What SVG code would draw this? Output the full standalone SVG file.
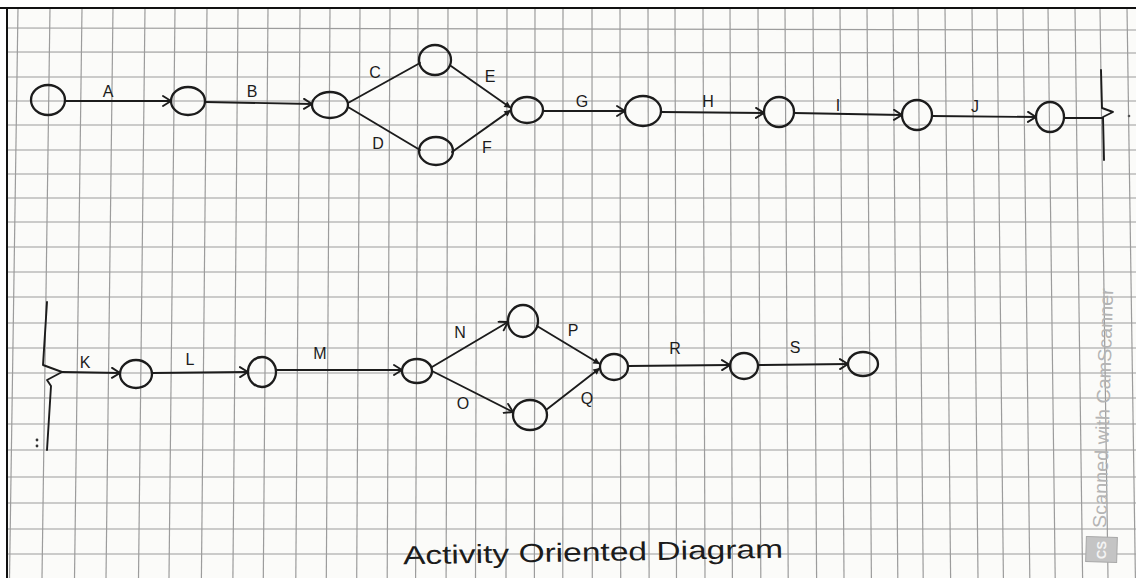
<svg xmlns="http://www.w3.org/2000/svg" width="1136" height="578" viewBox="0 0 1136 578">
  <defs>
    <style>
      .grid line { stroke: #9c9c9c; stroke-width: 1.2; }
      .node { fill: none; stroke: #1c1c1c; stroke-width: 2.3; }
      .edge { fill: none; stroke: #1c1c1c; stroke-width: 1.9; stroke-linecap: round; stroke-linejoin: round; }
      .lbl { font-family: "Liberation Sans", Arial, sans-serif; font-size: 16px; fill: #1c1c1c; text-anchor: middle; dominant-baseline: central; }
      .title { font-family: "Liberation Sans", Arial, sans-serif; font-size: 26px; fill: #1c1c1c; }
      .mark { font-family: "Liberation Sans", Arial, sans-serif; fill: #b4b4b4; }
    </style>
    <marker id="open" viewBox="-10 -6 12 12" refX="0" refY="0" markerWidth="12" markerHeight="12" markerUnits="userSpaceOnUse" orient="auto">
      <path d="M-8,-5 L0,0 L-8,5" fill="none" stroke="#1c1c1c" stroke-width="1.9" stroke-linecap="round" stroke-linejoin="round"/>
    </marker>
    <marker id="solid" viewBox="-10 -6 12 12" refX="0" refY="0" markerWidth="10" markerHeight="10" markerUnits="userSpaceOnUse" orient="auto">
      <path d="M-8,-4 L0,0 L-8,4 Z" fill="#1c1c1c"/>
    </marker>
  </defs>

  <!-- paper -->
  <rect x="0" y="0" width="1136" height="578" fill="#ffffff"/>
  <rect x="7" y="8" width="1129" height="570" fill="#fbfbf9"/>

  <!-- squared paper grid -->
  <g class="grid">
    <line x1="18" y1="8" x2="9.5" y2="578"/>
    <line x1="50" y1="8" x2="42" y2="578"/>
    <line x1="82" y1="8" x2="74.5" y2="578"/>
    <line x1="113" y1="8" x2="106" y2="578"/>
    <line x1="145" y1="8" x2="138.5" y2="578"/>
    <line x1="175" y1="8" x2="169" y2="578"/>
    <line x1="207" y1="8" x2="201.4" y2="578"/>
    <line x1="238" y1="8" x2="232.9" y2="578"/>
    <line x1="268" y1="8" x2="263.3" y2="578"/>
    <line x1="300" y1="8" x2="295.8" y2="578"/>
    <line x1="330" y1="8" x2="326.3" y2="578"/>
    <line x1="360" y1="8" x2="356.7" y2="578"/>
    <line x1="390" y1="8" x2="387.2" y2="578"/>
    <line x1="418" y1="8" x2="415.6" y2="578"/>
    <line x1="448" y1="8" x2="446.1" y2="578"/>
    <line x1="477" y1="8" x2="475.5" y2="578"/>
    <line x1="507" y1="8" x2="506" y2="578"/>
    <line x1="535" y1="8" x2="534.4" y2="578"/>
    <line x1="563" y1="8" x2="562.8" y2="578"/>
    <line x1="592" y1="8" x2="592.3" y2="578"/>
    <line x1="620" y1="8" x2="620.7" y2="578"/>
    <line x1="648" y1="8" x2="649.1" y2="578"/>
    <line x1="675" y1="8" x2="676.5" y2="578"/>
    <line x1="703" y1="8" x2="705" y2="578"/>
    <line x1="730" y1="8" x2="732.4" y2="578"/>
    <line x1="758" y1="8" x2="760.8" y2="578"/>
    <line x1="785" y1="8" x2="788.2" y2="578"/>
    <line x1="813" y1="8" x2="816.6" y2="578"/>
    <line x1="840" y1="8" x2="844" y2="578"/>
    <line x1="867" y1="8" x2="871.4" y2="578"/>
    <line x1="893" y1="8" x2="897.8" y2="578"/>
    <line x1="918" y1="8" x2="923.2" y2="578"/>
    <line x1="945" y1="8" x2="950.6" y2="578"/>
    <line x1="972" y1="8" x2="978" y2="578"/>
    <line x1="997" y1="8" x2="1003.4" y2="578"/>
    <line x1="1023" y1="8" x2="1029.8" y2="578"/>
    <line x1="1048" y1="8" x2="1055.2" y2="578"/>
    <line x1="1075" y1="8" x2="1082.6" y2="578"/>
    <line x1="1100" y1="8" x2="1108" y2="578"/>
    <line x1="1127" y1="8" x2="1135.4" y2="578"/>

    <line x1="7" y1="28" x2="1136" y2="30"/>
    <line x1="7" y1="52" x2="1136" y2="53"/>
    <line x1="7" y1="77" x2="1136" y2="77"/>
    <line x1="7" y1="101" x2="1136" y2="101"/>
    <line x1="7" y1="125" x2="1136" y2="125"/>
    <line x1="7" y1="150" x2="1136" y2="150"/>
    <line x1="7" y1="174" x2="1136" y2="174"/>
    <line x1="7" y1="198" x2="1136" y2="198"/>
    <line x1="7" y1="222" x2="1136" y2="222"/>
    <line x1="7" y1="247" x2="1136" y2="247"/>
    <line x1="7" y1="272" x2="1136" y2="272"/>
    <line x1="7" y1="297" x2="1136" y2="297"/>
    <line x1="7" y1="323" x2="1136" y2="323"/>
    <line x1="7" y1="348" x2="1136" y2="348"/>
    <line x1="7" y1="373" x2="1136" y2="373"/>
    <line x1="7" y1="398" x2="1136" y2="398"/>
    <line x1="7" y1="424" x2="1136" y2="424"/>
    <line x1="7" y1="450" x2="1136" y2="450"/>
    <line x1="7" y1="477" x2="1136" y2="477"/>
    <line x1="7" y1="503" x2="1136" y2="503"/>
    <line x1="7" y1="529" x2="1136" y2="529"/>
    <line x1="7" y1="554" x2="1136" y2="554"/>
  </g>

  <!-- scan frame -->
  <line x1="0" y1="8" x2="1136" y2="8" stroke="#111" stroke-width="2"/>
  <line x1="7" y1="8" x2="7" y2="578" stroke="#111" stroke-width="2"/>

  <!-- activity arrows -->
  <g id="connectors">
    <path class="edge" d="M65,101 L171,101" marker-end="url(#open)"/>
    <path class="edge" d="M205,102 L312,104" marker-end="url(#open)"/>
    <path class="edge" d="M348,103 L420,63"/>
    <path class="edge" d="M348,107 L420,150"/>
    <path class="edge" d="M451,66 L511,108" marker-end="url(#solid)"/>
    <path class="edge" d="M452,152 L511,110" marker-end="url(#solid)"/>
    <path class="edge" d="M543,111 L625,111" marker-end="url(#open)"/>
    <path class="edge" d="M661,112 L764,113" marker-end="url(#open)"/>
    <path class="edge" d="M794,113 L902,115" marker-end="url(#open)"/>
    <path class="edge" d="M932,116 L1036,117" marker-end="url(#open)"/>
    <path class="edge" d="M1064,118 L1103,118"/>
    <!-- continuation break, end of first row -->
    <path class="edge" d="M1101,70 L1102,108 L1113,112 L1103,117 L1104,160" stroke-width="2.3"/>
    <!-- continuation break, start of second row -->
    <path class="edge" d="M47,302 L43,365 L62,372 L47,380 L51,386 L47,450" stroke-width="2.3"/>
    <path class="edge" d="M62,372 L120,373" marker-end="url(#open)"/>
    <path class="edge" d="M152,373 L248,372" marker-end="url(#open)"/>
    <path class="edge" d="M277,370 L402,370" marker-end="url(#open)"/>
    <path class="edge" d="M432,367 L508,322" marker-end="url(#open)"/>
    <path class="edge" d="M432,371 L513,412" marker-end="url(#open)"/>
    <path class="edge" d="M537,326 L600,364" marker-end="url(#solid)"/>
    <path class="edge" d="M546,410 L600,368" marker-end="url(#solid)"/>
    <path class="edge" d="M628,366 L730,365" marker-end="url(#open)"/>
    <path class="edge" d="M758,365 L848,364" marker-end="url(#open)"/>
    <circle cx="1129" cy="116" r="1.3" fill="#555"/>
    <circle cx="37" cy="440" r="1.4" fill="#333"/>
    <circle cx="37" cy="446" r="1.4" fill="#333"/>
  </g>

  <!-- activity labels -->
  <g id="labels">
    <text class="lbl" x="108" y="91">A</text>
    <text class="lbl" x="252" y="91">B</text>
    <text class="lbl" x="375" y="72">C</text>
    <text class="lbl" x="378" y="143">D</text>
    <text class="lbl" x="490" y="76">E</text>
    <text class="lbl" x="487" y="147">F</text>
    <text class="lbl" x="582" y="101">G</text>
    <text class="lbl" x="708" y="101">H</text>
    <text class="lbl" x="838" y="105">I</text>
    <text class="lbl" x="975" y="106">J</text>
    <text class="lbl" x="85" y="362">K</text>
    <text class="lbl" x="190" y="359">L</text>
    <text class="lbl" x="320" y="353">M</text>
    <text class="lbl" x="460" y="332">N</text>
    <text class="lbl" x="463" y="403">O</text>
    <text class="lbl" x="573" y="330">P</text>
    <text class="lbl" x="587" y="398">Q</text>
    <text class="lbl" x="675" y="348">R</text>
    <text class="lbl" x="795" y="347">S</text>
  </g>

  <!-- events (nodes) -->
  <g id="n1"><ellipse class="node" cx="48" cy="100" rx="17" ry="15"/></g>
  <g id="n2"><ellipse class="node" cx="188" cy="101" rx="17" ry="14"/></g>
  <g id="n3"><ellipse class="node" cx="330" cy="105" rx="18" ry="13"/></g>
  <g id="n4"><ellipse class="node" cx="435" cy="60" rx="16" ry="15"/></g>
  <g id="n5"><ellipse class="node" cx="436" cy="151" rx="17" ry="14"/></g>
  <g id="n6"><ellipse class="node" cx="527" cy="110" rx="16" ry="13"/></g>
  <g id="n7"><ellipse class="node" cx="643" cy="111" rx="18" ry="15"/></g>
  <g id="n8"><ellipse class="node" cx="779" cy="112" rx="15" ry="15"/></g>
  <g id="n9"><ellipse class="node" cx="917" cy="115" rx="15" ry="15"/></g>
  <g id="n10"><ellipse class="node" cx="1050" cy="117" rx="14" ry="15"/></g>
  <g id="n11"><ellipse class="node" cx="136" cy="374" rx="16" ry="14"/></g>
  <g id="n12"><ellipse class="node" cx="262" cy="372" rx="14" ry="15"/></g>
  <g id="n13"><ellipse class="node" cx="417" cy="371" rx="15" ry="12"/></g>
  <g id="n14"><ellipse class="node" cx="523" cy="321" rx="15" ry="16"/></g>
  <g id="n15"><ellipse class="node" cx="530" cy="415" rx="17" ry="15"/></g>
  <g id="n16"><ellipse class="node" cx="614" cy="367" rx="14" ry="13"/></g>
  <g id="n17"><ellipse class="node" cx="744" cy="366" rx="14" ry="13"/></g>
  <g id="n18"><ellipse class="node" cx="863" cy="364" rx="15" ry="12"/></g>

  <!-- caption -->
  <text class="title" x="403" y="561" textLength="380" lengthAdjust="spacingAndGlyphs" transform="rotate(-1 593 552)">Activity Oriented Diagram</text>

  <!-- scanner watermark -->
  <g transform="translate(1100 528) rotate(-88.3)">
    <text class="mark" x="0" y="6" font-size="19" textLength="240" lengthAdjust="spacingAndGlyphs">Scanned with CamScanner</text>
  </g>
  <g transform="translate(1101 550) rotate(-88.3)">
    <rect x="-12" y="-15" width="25" height="31" fill="#c4c4c4" stroke="#a8a8a8" stroke-width="1"/>
    <text x="0" y="5" font-family="Liberation Sans, Arial, sans-serif" font-size="13" font-weight="bold" fill="#f4f4f4" text-anchor="middle">CS</text>
  </g>
</svg>
